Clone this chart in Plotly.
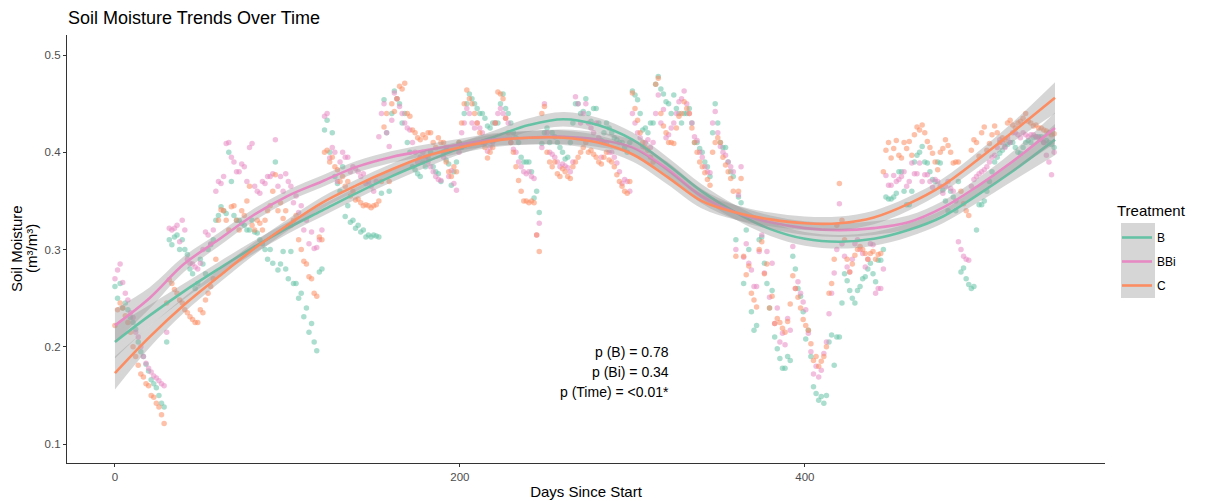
import plotly.graph_objects as go

# ---------------- data ----------------
days = list(range(0, 546, 3))
days_b = [d + 1.5 for d in days]

moist_B = [
    0.262, 0.265, 0.245, 0.230, 0.218, 0.195, 0.182, 0.166, 0.158, 0.142,
    0.205, 0.305, 0.315, 0.310, 0.295, 0.275, 0.265, 0.285, 0.300, 0.310,
    0.335, 0.340, 0.400, 0.335, 0.330, 0.325, 0.320, 0.318, 0.310, 0.300,
    0.300, 0.390, 0.285, 0.280, 0.298, 0.265, 0.255, 0.240, 0.224, 0.196,
    0.280, 0.433, 0.420, 0.368, 0.385, 0.345, 0.330, 0.325, 0.320, 0.315,
    0.315, 0.313, 0.454, 0.360, 0.463, 0.450, 0.440, 0.400, 0.382, 0.375,
    0.385, 0.400, 0.380, 0.370, 0.392, 0.366, 0.390, 0.405, 0.450, 0.455,
    0.445, 0.440, 0.427, 0.430, 0.430, 0.460, 0.440, 0.420, 0.410, 0.390,
    0.390, 0.353, 0.338, 0.420, 0.410, 0.416, 0.405, 0.393, 0.410, 0.450,
    0.440, 0.455, 0.432, 0.445, 0.412, 0.430, 0.420, 0.413, 0.410, 0.400,
    0.463, 0.454, 0.423, 0.420, 0.430, 0.478, 0.460, 0.450, 0.459, 0.440,
    0.440, 0.445, 0.410, 0.404, 0.390, 0.375, 0.450, 0.410, 0.405, 0.380,
    0.310, 0.348, 0.320, 0.236, 0.222, 0.313, 0.265, 0.258, 0.198, 0.178,
    0.190, 0.293, 0.260, 0.236, 0.217, 0.159, 0.145, 0.142, 0.205, 0.181,
    0.210, 0.275, 0.258, 0.245, 0.262, 0.272, 0.286, 0.267, 0.289, 0.354,
    0.352, 0.358, 0.380, 0.346, 0.360, 0.397, 0.406, 0.389, 0.372, 0.390,
    0.361, 0.340, 0.354, 0.370, 0.281, 0.264, 0.262, 0.346, 0.350, 0.370,
    0.390, 0.399, 0.406, 0.410, 0.405, 0.399, 0.410, 0.410, 0.416, 0.416,
    0.412, 0.408,
]
moist_B_b = [
    0.250, 0.240, 0.238, 0.225, 0.205, 0.190, 0.175, 0.162, 0.150, 0.138,
    0.310, 0.313, 0.300, 0.300, 0.280, 0.260, 0.290, 0.275, 0.305, 0.330,
    0.344, 0.337, 0.370, 0.330, 0.327, 0.320, 0.330, 0.317, 0.306, 0.290,
    0.286, 0.279, 0.298, 0.270, 0.265, 0.250, 0.231, 0.215, 0.205, 0.277,
    0.423, 0.400, 0.375, 0.360, 0.334, 0.328, 0.322, 0.318, 0.313, 0.313,
    0.314, 0.358, 0.420, 0.440, 0.455, 0.430, 0.410, 0.385, 0.378, 0.390,
    0.395, 0.385, 0.378, 0.400, 0.388, 0.380, 0.410, 0.440, 0.460, 0.450,
    0.440, 0.435, 0.425, 0.430, 0.450, 0.445, 0.430, 0.415, 0.395, 0.390,
    0.380, 0.360, 0.409, 0.425, 0.420, 0.410, 0.400, 0.395, 0.430, 0.450,
    0.442, 0.440, 0.445, 0.430, 0.420, 0.425, 0.415, 0.410, 0.405, 0.410,
    0.459, 0.440, 0.425, 0.430, 0.470, 0.465, 0.452, 0.440, 0.445, 0.430,
    0.440, 0.430, 0.410, 0.400, 0.385, 0.420, 0.430, 0.405, 0.390, 0.375,
    0.354, 0.265, 0.300, 0.217, 0.310, 0.286, 0.240, 0.210, 0.188, 0.178,
    0.186, 0.280, 0.252, 0.208, 0.190, 0.152, 0.149, 0.150, 0.212, 0.210,
    0.245, 0.268, 0.250, 0.258, 0.270, 0.280, 0.275, 0.289, 0.300, 0.352,
    0.354, 0.380, 0.360, 0.346, 0.390, 0.400, 0.390, 0.380, 0.370, 0.389,
    0.350, 0.360, 0.340, 0.277, 0.270, 0.260, 0.320, 0.346, 0.360, 0.380,
    0.395, 0.402, 0.408, 0.410, 0.400, 0.405, 0.412, 0.415, 0.416, 0.410,
    0.410, 0.405,
]

moist_BBi = [
    0.270, 0.285, 0.255, 0.235, 0.215, 0.200, 0.183, 0.174, 0.168, 0.162,
    0.215, 0.320, 0.325, 0.330, 0.290, 0.285, 0.280, 0.300, 0.315, 0.320,
    0.370, 0.375, 0.410, 0.390, 0.380, 0.385, 0.405, 0.365, 0.358, 0.368,
    0.375, 0.413, 0.375, 0.378, 0.365, 0.355, 0.345, 0.330, 0.318, 0.302,
    0.320, 0.440, 0.405, 0.370, 0.400, 0.395, 0.385, 0.380, 0.378, 0.370,
    0.360, 0.416, 0.450, 0.406, 0.461, 0.447, 0.430, 0.423, 0.400, 0.395,
    0.395, 0.385, 0.375, 0.371, 0.405, 0.381, 0.361, 0.420, 0.445, 0.430,
    0.430, 0.420, 0.401, 0.410, 0.440, 0.440, 0.430, 0.403, 0.390, 0.380,
    0.380, 0.373, 0.327, 0.450, 0.400, 0.395, 0.385, 0.386, 0.380, 0.457,
    0.430, 0.450, 0.425, 0.430, 0.395, 0.410, 0.400, 0.389, 0.368, 0.370,
    0.440, 0.420, 0.406, 0.413, 0.410, 0.459, 0.444, 0.418, 0.430, 0.452,
    0.463, 0.440, 0.416, 0.400, 0.385, 0.379, 0.442, 0.406, 0.397, 0.385,
    0.300, 0.385, 0.306, 0.279, 0.262, 0.315, 0.298, 0.286, 0.240, 0.214,
    0.229, 0.303, 0.267, 0.246, 0.214, 0.172, 0.169, 0.193, 0.234, 0.276,
    0.347, 0.293, 0.277, 0.306, 0.300, 0.282, 0.306, 0.255, 0.260, 0.376,
    0.366, 0.370, 0.375, 0.365, 0.389, 0.378, 0.370, 0.377, 0.364, 0.370,
    0.358, 0.370, 0.360, 0.308, 0.293, 0.289, 0.372, 0.378, 0.382, 0.390,
    0.397, 0.413, 0.405, 0.410, 0.420, 0.415, 0.418, 0.418, 0.416, 0.413,
    0.397, 0.377,
]
moist_BBi_b = [
    0.279, 0.266, 0.248, 0.230, 0.210, 0.190, 0.178, 0.170, 0.165, 0.160,
    0.322, 0.322, 0.308, 0.320, 0.286, 0.282, 0.286, 0.318, 0.306, 0.360,
    0.368, 0.409, 0.395, 0.380, 0.388, 0.370, 0.409, 0.360, 0.370, 0.375,
    0.378, 0.365, 0.360, 0.370, 0.348, 0.338, 0.320, 0.306, 0.301, 0.310,
    0.437, 0.394, 0.400, 0.390, 0.395, 0.380, 0.383, 0.375, 0.368, 0.365,
    0.370, 0.440, 0.420, 0.433, 0.455, 0.440, 0.425, 0.410, 0.390, 0.400,
    0.390, 0.380, 0.372, 0.395, 0.375, 0.368, 0.400, 0.430, 0.440, 0.425,
    0.425, 0.410, 0.405, 0.430, 0.445, 0.435, 0.410, 0.400, 0.385, 0.378,
    0.375, 0.315, 0.405, 0.420, 0.398, 0.390, 0.388, 0.384, 0.390, 0.450,
    0.440, 0.430, 0.420, 0.415, 0.410, 0.400, 0.395, 0.380, 0.372, 0.360,
    0.430, 0.415, 0.410, 0.405, 0.440, 0.430, 0.415, 0.425, 0.440, 0.455,
    0.450, 0.430, 0.412, 0.395, 0.380, 0.430, 0.420, 0.400, 0.390, 0.380,
    0.356, 0.292, 0.286, 0.262, 0.298, 0.276, 0.251, 0.224, 0.205, 0.202,
    0.217, 0.260, 0.255, 0.238, 0.195, 0.180, 0.176, 0.205, 0.255, 0.300,
    0.306, 0.282, 0.290, 0.310, 0.296, 0.290, 0.305, 0.260, 0.280, 0.366,
    0.376, 0.372, 0.380, 0.370, 0.378, 0.389, 0.377, 0.370, 0.372, 0.365,
    0.365, 0.363, 0.350, 0.300, 0.290, 0.365, 0.375, 0.380, 0.385, 0.395,
    0.405, 0.410, 0.415, 0.420, 0.418, 0.420, 0.416, 0.418, 0.415, 0.410,
    0.390, 0.400,
]

moist_C = [
    0.222, 0.245, 0.232, 0.215, 0.190, 0.172, 0.162, 0.150, 0.142, 0.130,
    0.245, 0.265, 0.255, 0.245, 0.235, 0.228, 0.225, 0.235, 0.255, 0.270,
    0.330, 0.340, 0.320, 0.345, 0.320, 0.335, 0.365, 0.320, 0.327, 0.330,
    0.345, 0.377, 0.348, 0.340, 0.325, 0.335, 0.300, 0.285, 0.270, 0.252,
    0.310, 0.402, 0.395, 0.382, 0.375, 0.370, 0.360, 0.352, 0.345, 0.345,
    0.345, 0.350, 0.426, 0.370, 0.442, 0.468, 0.471, 0.437, 0.420, 0.413,
    0.415, 0.420, 0.405, 0.410, 0.390, 0.375, 0.380, 0.430, 0.464, 0.450,
    0.430, 0.410, 0.394, 0.405, 0.462, 0.455, 0.420, 0.400, 0.371, 0.350,
    0.348, 0.348, 0.298, 0.447, 0.390, 0.390, 0.375, 0.380, 0.373, 0.390,
    0.400, 0.410, 0.402, 0.395, 0.388, 0.400, 0.390, 0.377, 0.365, 0.358,
    0.461, 0.433, 0.410, 0.402, 0.390, 0.476, 0.427, 0.410, 0.409, 0.437,
    0.452, 0.440, 0.410, 0.390, 0.379, 0.366, 0.410, 0.410, 0.387, 0.373,
    0.293, 0.373, 0.274, 0.255, 0.241, 0.308, 0.285, 0.252, 0.229, 0.219,
    0.226, 0.273, 0.251, 0.228, 0.217, 0.186, 0.180, 0.190, 0.255, 0.290,
    0.368, 0.310, 0.277, 0.294, 0.303, 0.296, 0.296, 0.290, 0.296, 0.402,
    0.394, 0.412, 0.394, 0.404, 0.397, 0.426, 0.428, 0.411, 0.399, 0.382,
    0.404, 0.407, 0.389, 0.390, 0.347, 0.335, 0.413, 0.396, 0.426, 0.409,
    0.427, 0.410, 0.413, 0.433, 0.425, 0.432, 0.440, 0.430, 0.428, 0.425,
    0.422, 0.418,
]
moist_C_b = [
    0.238, 0.240, 0.225, 0.200, 0.181, 0.169, 0.160, 0.148, 0.138, 0.121,
    0.269, 0.259, 0.248, 0.238, 0.231, 0.225, 0.238, 0.248, 0.262, 0.290,
    0.341, 0.330, 0.344, 0.330, 0.340, 0.350, 0.325, 0.330, 0.320, 0.340,
    0.360, 0.340, 0.332, 0.324, 0.330, 0.310, 0.288, 0.272, 0.255, 0.313,
    0.400, 0.390, 0.385, 0.370, 0.365, 0.355, 0.351, 0.348, 0.346, 0.343,
    0.346, 0.370, 0.440, 0.450, 0.455, 0.465, 0.440, 0.423, 0.415, 0.418,
    0.420, 0.410, 0.415, 0.410, 0.380, 0.385, 0.410, 0.450, 0.455, 0.440,
    0.420, 0.405, 0.400, 0.430, 0.460, 0.435, 0.410, 0.385, 0.360, 0.350,
    0.350, 0.315, 0.440, 0.400, 0.385, 0.378, 0.383, 0.375, 0.385, 0.395,
    0.405, 0.400, 0.398, 0.390, 0.395, 0.392, 0.385, 0.370, 0.360, 0.370,
    0.445, 0.420, 0.405, 0.395, 0.470, 0.440, 0.420, 0.410, 0.425, 0.440,
    0.445, 0.425, 0.400, 0.385, 0.372, 0.400, 0.415, 0.395, 0.380, 0.360,
    0.360, 0.293, 0.283, 0.248, 0.300, 0.275, 0.240, 0.224, 0.225, 0.215,
    0.244, 0.260, 0.240, 0.222, 0.203, 0.190, 0.185, 0.200, 0.265, 0.325,
    0.330, 0.290, 0.285, 0.300, 0.300, 0.290, 0.298, 0.295, 0.380, 0.410,
    0.404, 0.397, 0.410, 0.411, 0.418, 0.423, 0.420, 0.405, 0.390, 0.400,
    0.413, 0.400, 0.390, 0.360, 0.340, 0.402, 0.410, 0.420, 0.402, 0.418,
    0.420, 0.415, 0.430, 0.428, 0.430, 0.435, 0.432, 0.427, 0.425, 0.423,
    0.420, 0.419,
]

# fitted smooth curves and their standard errors
fit_days = [0, 20, 40, 60, 80, 100, 120, 140, 160, 180, 200, 220, 240, 260,
            280, 300, 320, 340, 360, 380, 400, 420, 440, 460, 480, 500, 520, 545]

fit_B = [0.205, 0.232, 0.257, 0.280, 0.302, 0.322, 0.340, 0.358, 0.375, 0.390,
         0.404, 0.416, 0.428, 0.434, 0.428, 0.413, 0.388, 0.360, 0.338, 0.321,
         0.311, 0.308, 0.311, 0.320, 0.334, 0.356, 0.380, 0.413]
fit_BBi = [0.222, 0.250, 0.285, 0.310, 0.335, 0.355, 0.370, 0.385, 0.395, 0.402,
           0.408, 0.413, 0.415, 0.416, 0.413, 0.405, 0.383, 0.355, 0.338, 0.328,
           0.322, 0.320, 0.322, 0.328, 0.343, 0.365, 0.390, 0.425]
fit_C = [0.173, 0.210, 0.243, 0.272, 0.300, 0.325, 0.348, 0.366, 0.382, 0.396,
         0.405, 0.412, 0.415, 0.415, 0.410, 0.398, 0.375, 0.350, 0.338, 0.331,
         0.327, 0.327, 0.333, 0.347, 0.366, 0.392, 0.420, 0.456]

se_B = [0.017, 0.011, 0.008, 0.007, 0.0065, 0.006, 0.006, 0.006, 0.006, 0.006,
        0.006, 0.0065, 0.007, 0.0075, 0.0075, 0.0075, 0.0075, 0.0075, 0.0075, 0.007,
        0.007, 0.007, 0.007, 0.007, 0.007, 0.008, 0.010, 0.016]
se_BBi = [0.017, 0.011, 0.008, 0.007, 0.0065, 0.006, 0.006, 0.006, 0.006, 0.006,
          0.006, 0.0065, 0.007, 0.0075, 0.0075, 0.0075, 0.0075, 0.0075, 0.0075, 0.007,
          0.007, 0.007, 0.007, 0.007, 0.007, 0.008, 0.010, 0.016]
se_C = [0.017, 0.011, 0.008, 0.007, 0.0065, 0.006, 0.006, 0.006, 0.006, 0.006,
        0.006, 0.0065, 0.007, 0.0075, 0.0075, 0.0075, 0.0075, 0.0075, 0.0075, 0.007,
        0.007, 0.007, 0.007, 0.007, 0.007, 0.008, 0.010, 0.016]

treatments = ["B", "BBi", "C"]
colors = {"B": "#66C2A5", "BBi": "#E78AC3", "C": "#FC8D62"}
p_labels = ["p (B) = 0.78", "p (Bi) = 0.34", "p (Time) = <0.01*"]

points = {"B": (moist_B, moist_B_b), "BBi": (moist_BBi, moist_BBi_b), "C": (moist_C, moist_C_b)}
fits = {"B": fit_B, "BBi": fit_BBi, "C": fit_C}
ses = {"B": se_B, "BBi": se_BBi, "C": se_C}

FONT = "Liberation Sans, Arial, Helvetica, sans-serif"

# layout geometry (pixels)
W, H = 1207, 501
ML, MR, MT, MB = 67, 102, 35, 38
PW, PH = W - ML - MR, H - MT - MB


def px_x(p):
    return (p - ML) / PW


def px_y(p):
    return (H - MB - p) / PH


fig = go.Figure()

# points (interleave the two reading passes)
for t in treatments:
    a, b = points[t]
    xs, ys = [], []
    for d1, v1, d2, v2 in zip(days, a, days_b, b):
        xs += [d1, d2]
        ys += [v1, v2]
    fig.add_trace(go.Scatter(
        x=xs, y=ys, mode="markers", name=t, showlegend=False,
        marker=dict(size=5.5, color=colors[t], opacity=0.55, line=dict(width=0)),
        hoverinfo="x+y+name",
    ))

# smooth: ribbon then line per group
for t in treatments:
    lo = [f - s for f, s in zip(fits[t], ses[t])]
    hi = [f + s for f, s in zip(fits[t], ses[t])]
    fig.add_trace(go.Scatter(
        x=fit_days, y=lo, mode="lines", line=dict(width=0, shape="spline", smoothing=1.0),
        showlegend=False, hoverinfo="skip",
    ))
    fig.add_trace(go.Scatter(
        x=fit_days, y=hi, mode="lines", line=dict(width=0, shape="spline", smoothing=1.0),
        fill="tonexty", fillcolor="rgba(153,153,153,0.4)",
        showlegend=False, hoverinfo="skip",
    ))
    fig.add_trace(go.Scatter(
        x=fit_days, y=fits[t], mode="lines", name=t, legendgroup=t,
        line=dict(width=2.6, color=colors[t], shape="spline", smoothing=1.0),
    ))

# p-value annotations
for i, txt in enumerate(p_labels):
    fig.add_annotation(
        x=px_x(671), y=px_y(352 + 20 * i), xref="paper", yref="paper", text=txt,
        showarrow=False, xanchor="right", yanchor="middle",
        font=dict(family=FONT, size=14, color="black"),
    )

# y-axis title (two lines)
fig.add_annotation(x=px_x(16), y=px_y(249), xref="paper", yref="paper",
                   text="Soil Moisture", textangle=-90, showarrow=False,
                   xanchor="center", yanchor="middle",
                   font=dict(family=FONT, size=15, color="black"))
fig.add_annotation(x=px_x(31), y=px_y(249), xref="paper", yref="paper",
                   text="(m³/m³)", textangle=-90, showarrow=False,
                   xanchor="center", yanchor="middle",
                   font=dict(family=FONT, size=15, color="black"))

# legend title
fig.add_annotation(x=px_x(1115), y=px_y(210), xref="paper", yref="paper",
                   text="Treatment", showarrow=False, xanchor="left", yanchor="middle",
                   font=dict(family=FONT, size=15, color="black"))

# gray legend key background
fig.add_shape(type="rect", xref="paper", yref="paper",
              x0=px_x(1121), x1=px_x(1155), y0=px_y(298), y1=px_y(223),
              fillcolor="rgba(153,153,153,0.4)", line=dict(width=0), layer="below")

fig.update_layout(
    width=W, height=H,
    margin=dict(l=ML, r=MR, t=MT, b=MB, autoexpand=False),
    paper_bgcolor="white", plot_bgcolor="white",
    font=dict(family=FONT, color="black"),
    title=dict(text="Soil Moisture Trends Over Time", x=68 / W, xanchor="left",
               xref="container", yref="container",
               y=1 - 18 / H, yanchor="middle",
               font=dict(family=FONT, size=18, color="black")),
    showlegend=True,
    legend=dict(
        x=px_x(1117), xanchor="left", y=px_y(223), yanchor="top",
        font=dict(family=FONT, size=12, color="black"),
        bgcolor="rgba(0,0,0,0)", tracegroupgap=5, itemwidth=30,
    ),
    xaxis=dict(
        range=[-27.8, 574], tickvals=[0, 200, 400], ticktext=["0", "200", "400"],
        showgrid=False, zeroline=False, showline=True, linecolor="#333333", linewidth=1.2,
        ticks="outside", ticklen=3, tickcolor="#333333", tickwidth=1,
        tickfont=dict(family=FONT, size=11.5, color="#4d4d4d"),
        title=dict(text="Days Since Start", font=dict(family=FONT, size=15, color="black"),
                   standoff=4),
        automargin=False,
    ),
    yaxis=dict(
        range=[0.0805, 0.5206], tickvals=[0.1, 0.2, 0.3, 0.4, 0.5],
        ticktext=["0.1", "0.2", "0.3", "0.4", "0.5"],
        showgrid=False, zeroline=False, showline=True, linecolor="#333333", linewidth=1.2,
        ticks="outside", ticklen=3, tickcolor="#333333", tickwidth=1,
        tickfont=dict(family=FONT, size=11.5, color="#4d4d4d"),
        automargin=False,
    ),
)

fig.write_html("out.html", config={"displayModeBar": False},
               post_script="document.body.style.margin='0';document.body.style.padding='0';")
